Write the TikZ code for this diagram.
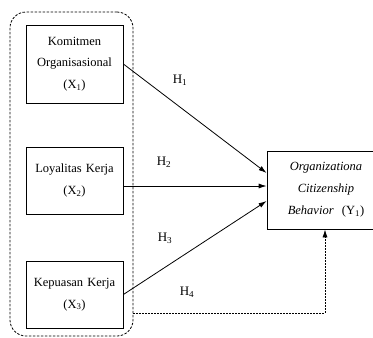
\documentclass[tikz,border=0pt]{standalone}
\usepackage{fontspec}
\setmainfont{Liberation Serif}
\usepackage{tikz}
\usetikzlibrary{arrows.meta}
\tikzstyle{varbox} = [rectangle, draw, line width=0.8pt, text width=95pt, align=center, minimum width=97pt, inner sep=1pt, font=\fontsize{12.5}{21.5}\selectfont]
\tikzstyle{ybox} = [rectangle, draw, line width=0.8pt, text width=104pt, align=center, minimum width=118pt, minimum height=78pt, font=\fontsize{12.5}{22}\selectfont\itshape]
\tikzstyle{grpbox} = [rectangle, draw, dashed, line width=0.8pt, dash pattern=on 2.5pt off 1.5pt, rounded corners=16pt, minimum width=123pt, minimum height=324pt]
\tikzstyle{hlabel} = [font=\fontsize{13}{14}\selectfont]
\tikzstyle{line} = [draw, line width=0.8pt, -{Latex[length=8pt,width=5pt]}]
\tikzstyle{dline} = [draw, line width=0.8pt, dash pattern=on 2pt off 1pt, -{Latex[length=8pt,width=5pt]}]

\begin{document}
\begin{tikzpicture}[node distance = 2cm, auto]
    \useasboundingbox (0,0) rectangle (373pt,-338pt);
    \node [grpbox] (grp) at (71.5pt,-174pt) {};
    \node [varbox, minimum height=78pt] (km) at (74.5pt,-64pt) {Komitmen\\Organisasional\\(X\textsubscript{1})};
    \node [varbox, minimum height=67pt, below of=km, node distance=116.5pt] (lk) {Loyalitas Kerja\\(X\textsubscript{2})};
    \node [varbox, minimum height=67pt, below of=lk, node distance=114pt] (kk) {Kepuasan Kerja\\(X\textsubscript{3})};
    \node [ybox] (ocb) at (326pt,-190pt) {Organizationa\\Citizenship\\\upshape\textit{Behavior}~ (Y\textsubscript{1})};
    \node [hlabel] (h1) at (180pt,-80pt) {H\textsubscript{1}};
    \node [hlabel] (h2) at (164pt,-162pt) {H\textsubscript{2}};
    \node [hlabel] (h3) at (165pt,-238pt) {H\textsubscript{3}};
    \node [hlabel] (h4) at (187pt,-292pt) {H\textsubscript{4}};
    \coordinate (h4s) at ([yshift=-139pt]grp.east);
    \path [line] (km.east) -- ([yshift=17pt]ocb.west);
    \path [line] ([yshift=-5.5pt]lk.east) -- ([yshift=4pt]ocb.west);
    \path [line] (kk.east) -- ([yshift=-11pt]ocb.west);
    \path [dline] (h4s) -| ([xshift=-1pt]ocb.south);
  \end{tikzpicture}
\end{document}
